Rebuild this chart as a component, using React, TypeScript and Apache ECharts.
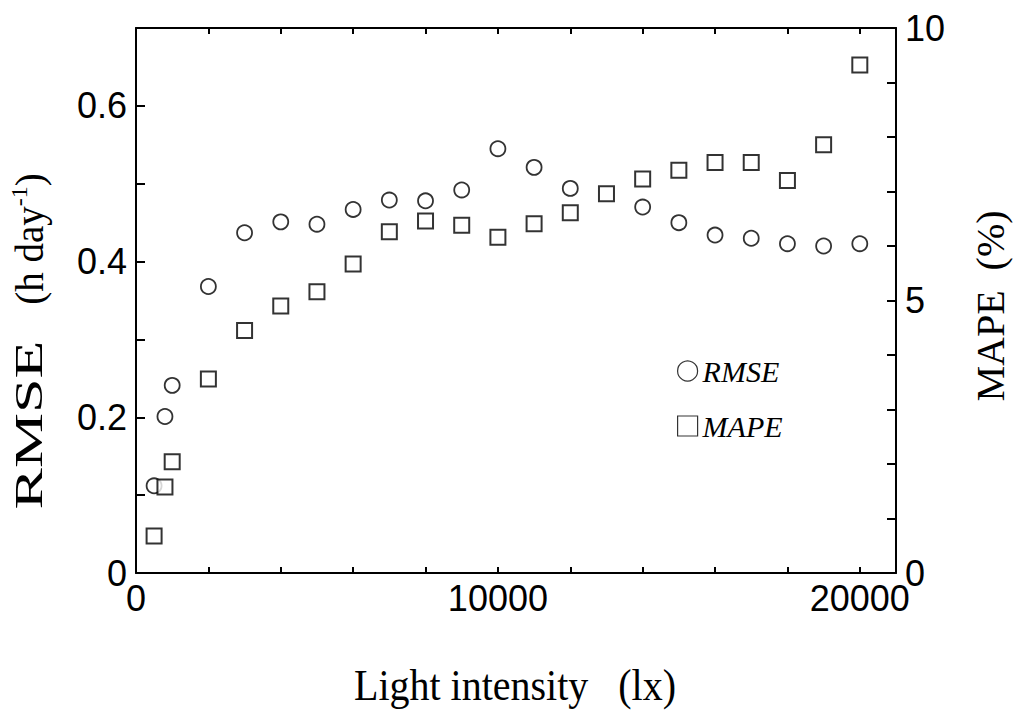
import { useEffect, useRef } from 'react';
import * as echarts from 'echarts';

// Light intensity (lx) for each measurement
const mapeX = [500, 800, 1000, 2000, 3000, 4000, 5000, 6000, 7000, 8000, 9000, 10000, 11000, 12000, 13000, 14000, 15000, 16000, 17000, 18000, 19000, 20000];
const mapeValues = [0.68, 1.58, 2.04, 3.56, 4.45, 4.90, 5.16, 5.67, 6.26, 6.46, 6.38, 6.16, 6.41, 6.61, 6.96, 7.23, 7.39, 7.53, 7.53, 7.20, 7.86, 9.32];

const rmseX = [500, 800, 1000, 2000, 3000, 4000, 5000, 6000, 7000, 8000, 9000, 10000, 11000, 12000, 14000, 15000, 16000, 17000, 18000, 19000, 20000];
const rmseValues = [0.112, 0.201, 0.241, 0.368, 0.437, 0.451, 0.448, 0.467, 0.479, 0.478, 0.492, 0.545, 0.521, 0.494, 0.470, 0.450, 0.434, 0.430, 0.423, 0.420, 0.423];

const xLabelValues = [0, 10000, 20000];
const leftLabelValues = [0, 0.2, 0.4, 0.6];
const rightLabelValues = [0, 5, 10];

const SANS = "'Liberation Sans', Arial, sans-serif";
const SERIF = "'Liberation Serif', 'Times New Roman', serif";

export default function App() {
  const ref = useRef<HTMLDivElement>(null);

  useEffect(() => {
    if (!ref.current) return;
    const chart = echarts.init(ref.current, undefined, { renderer: 'svg' });

    const axisLine = { show: true, onZero: false, lineStyle: { color: '#000', width: 2 } };
    const labelStyle = { color: '#000', fontFamily: SANS, fontSize: 36 };

    chart.setOption({
      animation: false,
      backgroundColor: '#fff',
      grid: { left: 136, right: 128, top: 28, bottom: 143, containLabel: false },
      xAxis: [
        {
          type: 'value', min: 0, max: 21000, interval: 2000, position: 'bottom',
          axisLine, splitLine: { show: false },
          axisTick: { show: true, inside: true, length: 6, lineStyle: { color: '#000', width: 2 } },
          axisLabel: {
            ...labelStyle, margin: 11, lineHeight: 28, showMaxLabel: false,
            formatter: (v: number) => (xLabelValues.includes(v) ? String(v) : ''),
          },
        },
        {
          type: 'value', min: 0, max: 21000, interval: 2000, position: 'top',
          axisLine, splitLine: { show: false },
          axisTick: { show: true, inside: true, length: 6, lineStyle: { color: '#000', width: 2 } },
          axisLabel: { show: false },
        },
      ],
      yAxis: [
        {
          type: 'value', min: 0, max: 0.7, interval: 0.1, position: 'left',
          axisLine, splitLine: { show: false },
          axisTick: { show: true, inside: true, length: 9, lineStyle: { color: '#000', width: 2 } },
          axisLabel: {
            ...labelStyle, margin: 9, showMaxLabel: false,
            formatter: (v: number) => {
              const r = Math.round(v * 10) / 10;
              return leftLabelValues.some((t) => Math.abs(t - r) < 1e-9) ? (r === 0 ? '0' : r.toFixed(1)) : '';
            },
          },
        },
        {
          type: 'value', min: 0, max: 10, interval: 1, position: 'right',
          axisLine, splitLine: { show: false },
          axisTick: { show: true, inside: true, length: 9, lineStyle: { color: '#000', width: 2 } },
          axisLabel: {
            ...labelStyle, margin: 9, lineHeight: 24,
            formatter: (v: number) => (rightLabelValues.includes(v) ? String(v) : ''),
          },
        },
      ],
      legend: {
        orient: 'vertical', left: 672, top: 351, itemGap: 25, itemWidth: 20, itemHeight: 20,
        textStyle: { color: '#000', fontFamily: SERIF, fontStyle: 'italic', fontSize: 30, lineHeight: 30 },
        data: [
          { name: 'RMSE', icon: 'circle', itemStyle: { color: '#fff', borderColor: '#000', borderWidth: 1.2 } },
          { name: 'MAPE', icon: 'rect', itemStyle: { color: '#fff', borderColor: '#000', borderWidth: 1.2 } },
        ],
      },
      series: [
        {
          name: 'RMSE', type: 'scatter', xAxisIndex: 0, yAxisIndex: 0,
          symbol: 'circle', symbolSize: 15,
          itemStyle: { color: '#fff', borderColor: '#000', borderWidth: 1.8 },
          data: rmseX.map((x, i) => [x, rmseValues[i]]),
          z: 2,
        },
        {
          name: 'MAPE', type: 'scatter', xAxisIndex: 0, yAxisIndex: 1,
          symbol: 'rect', symbolSize: 15,
          itemStyle: { color: '#fff', borderColor: '#000', borderWidth: 2 },
          data: mapeX.map((x, i) => [x, mapeValues[i]]),
          z: 3,
        },
      ],
      graphic: [
        {
          type: 'text', x: 515, y: 685, scaleY: 1.1,
          style: { text: 'Light intensity   (lx)', fill: '#000', font: `40px ${SERIF}`, align: 'center', verticalAlign: 'middle' },
        },
        {
          type: 'text', x: 29, y: 425, rotation: Math.PI / 2, scaleX: 1.55,
          style: { text: 'RMSE', fill: '#000', font: `40px ${SERIF}`, align: 'center', verticalAlign: 'middle' },
        },
        {
          type: 'text', x: 29, y: 239, rotation: Math.PI / 2,
          style: {
            text: '(h day{sup|-1})', fill: '#000', fontFamily: SERIF, fontSize: 39,
            align: 'center', verticalAlign: 'middle', lineHeight: 44,
            rich: { sup: { fontFamily: SERIF, fontSize: 24, verticalAlign: 'top', fill: '#000' } },
          },
        },
        {
          type: 'text', x: 990, y: 306, rotation: Math.PI / 2,
          style: { text: 'MAPE  (%)', fill: '#000', font: `40px ${SERIF}`, align: 'center', verticalAlign: 'middle' },
        },
      ],
    });

    return () => chart.dispose();
  }, []);

  return <div ref={ref} style={{ position: 'fixed', left: 0, top: 0, width: 1024, height: 716 }} />;
}
